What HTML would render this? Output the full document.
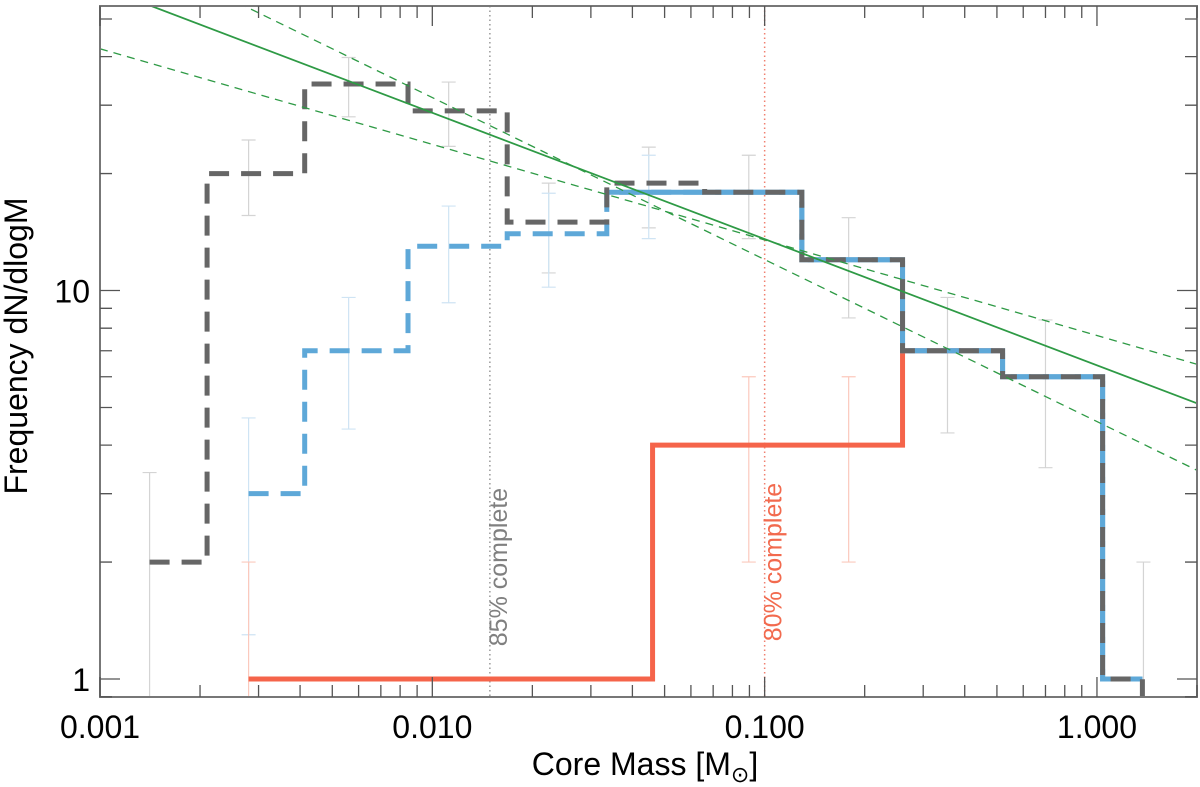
<!DOCTYPE html>
<html><head><meta charset="utf-8"><style>
body{margin:0;background:#fff}
svg{display:block;font-family:"Liberation Sans",sans-serif}
</style></head><body>
<svg id="chart" width="1200" height="787" viewBox="0 0 1200 787" xmlns="http://www.w3.org/2000/svg"></svg>
<script>
// ---- data ----
const grayEdges = [0.00141,0.0021,0.00413,0.00845,0.0168,0.0335,0.066,0.1294,0.26,0.52,1.04,1.37];
const grayValues = [2,20,34,29,15,18.9,17.9,12,7,6,1];
const blueEdges = [0.0028,0.00413,0.00845,0.0168,0.0335,0.066,0.1294,0.26,0.52,1.04,1.37];
const blueValues = [3,7,13,14,17.9,17.9,12,7,6,1];
const redEdges = [0.0028,0.046,0.26,0.52];
const redValues = [1,4,7];
const grayErrX = [0.00141,0.0028,0.0056,0.0112,0.0224,0.0448,0.0896,0.179,0.355,0.70,1.38];
const grayErrHi = [3.4,24.4,39.8,34.4,18.9,23.4,22.3,15.4,9.6,8.4,2.0];
const grayErrLo = [0.5,15.6,28,23.5,11.1,14.5,13.6,8.5,4.3,3.5,0.5];
const blueErrX = [0.0028,0.0056,0.0112,0.0224,0.0448];
const blueErrHi = [4.7,9.6,16.5,17.8,22.3];
const blueErrLo = [1.3,4.4,9.3,10.2,13.6];
const redErrX = [0.0028,0.0896,0.179];
const redErrHi = [2.0,6.0,6.0];
const redErrLo = [0.5,2.0,2.0];
const fitAmp = [6.42,7.66,4.6];
const fitSlope = [-0.325,-0.246,-0.417];
const xTickLabels = ["0.001","0.010","0.100","1.000"];
const xTickValues = [0.001,0.01,0.1,1];
const yTickLabels = ["1","10"];
const yTickValues = [1,10];
const completeness = [0.0149,0.1];
const completeLabels = ["85% complete","80% complete"];

// ---- axes ----
const L=100,R=1197,T=6,B=697;
const xmin=0.001,xmax=2.0,ymin=0.899,ymax=54;
const X=v=>L+(Math.log10(v)-Math.log10(xmin))/(Math.log10(xmax)-Math.log10(xmin))*(R-L);
const Y=v=>B-(Math.log10(v)-Math.log10(ymin))/(Math.log10(ymax)-Math.log10(ymin))*(B-T);
const svg=document.getElementById('chart');
const NS='http://www.w3.org/2000/svg';
function mk(tag,attrs,parent){const e=document.createElementNS(NS,tag);for(const k in attrs)e.setAttribute(k,attrs[k]);(parent||svg).appendChild(e);return e;}

const clip=mk('clipPath',{id:'pc'});mk('rect',{x:L,y:T,width:R-L,height:B-T},clip);
const plot=mk('g',{'clip-path':'url(#pc)'});



function errbars(xs,hi,lo,color,name){
  const g=mk('g',{stroke:color,'stroke-width':1.2,fill:'none'},plot);
  
  
  xs.forEach((x,i)=>{
    const px=X(x),yh=Y(hi[i]),yl=Y(Math.max(lo[i],0.5));
    const p=mk('path',{d:`M${px},${yh}V${yl}M${px-7},${yh}H${px+7}`+(lo[i]>0.9?`M${px-7},${yl}H${px+7}`:'')},g);
    
    
  });
}
errbars(grayErrX,grayErrHi,grayErrLo,'#d4d4d4','gray-error-bars');
errbars(blueErrX,blueErrHi,blueErrLo,'#cfe4f4','blue-error-bars');
errbars(redErrX,redErrHi,redErrLo,'#fbc9bd','red-error-bars');

// completeness lines
const compColors=['#999','#f08070'];
const textColors=['#808080','#f26a4e'];
completeness.forEach((c,i)=>{
  const l=mk('line',{x1:X(c),x2:X(c),y1:T,y2:B,stroke:compColors[i],'stroke-width':1.5,'stroke-dasharray':'1.5 3'},plot);
  
  
  const t=mk('text',{x:0,y:0,transform:`translate(${X(c)+17},${i?562:567}) rotate(-90)`,'text-anchor':'middle','font-size':25,fill:textColors[i]});
  t.textContent=completeLabels[i];
  
  
});

function stepPath(edges,vals){
  let d=`M${X(edges[0])},${Y(vals[0])}`;
  vals.forEach((v,i)=>{d+=`V${Y(v)}H${X(edges[i+1])}`;});
  return d;
}
const red=mk('path',{d:stepPath(redEdges,redValues),fill:'none',stroke:'#f5644a','stroke-width':5},plot);


const blue=mk('path',{d:stepPath(blueEdges,blueValues),fill:'none',stroke:'#5ea8d8','stroke-width':5,'stroke-dasharray':'20 12'},plot);


const blueUnder=mk('path',{d:stepPath(blueEdges.slice(4),blueValues.slice(4)),fill:'none',stroke:'#5ea8d8','stroke-width':5},plot);


const gray=mk('path',{d:stepPath(grayEdges,grayValues)+`V${Y(ymin)}`,fill:'none',stroke:'#666','stroke-width':5,'stroke-dasharray':'20 12'},plot);



// fits
fitAmp.forEach((a,i)=>{
  const f=m=>a*Math.pow(m,fitSlope[i]);
  const l=mk('line',{x1:X(xmin),y1:Y(f(xmin)),x2:X(xmax),y2:Y(f(xmax)),stroke:'#2e9a45','stroke-width':i?1.3:1.8,'stroke-dasharray':i?'8 6':'none'},plot);
  
  
});

// frame & ticks
const frame=mk('rect',{x:L,y:T,width:R-L,height:B-T,fill:'none',stroke:'#777','stroke-width':2});


const tg=mk('g',{stroke:'#555','stroke-width':1.3});


let d='';
for(let e=-3;e<=0;e++)for(let k=1;k<=9;k++){const v=k*Math.pow(10,e);if(v>xmax)break;const px=X(v),len=k===1?20:12;d+=`M${px},${B}v${-len}M${px},${T}v${len}`;}
for(let e=-1;e<=1;e++)for(let k=1;k<=9;k++){const v=k*Math.pow(10,e);if(v<ymin||v>ymax)continue;const py=Y(v),len=k===1?20:12;d+=`M${L},${py}h${len}M${R},${py}h${-len}`;}
mk('path',{d},tg);

xTickValues.forEach((v,i)=>{
  const t=mk('text',{x:X(v),y:B+41,'text-anchor':'middle','font-size':32,fill:'#000'});
  t.textContent=xTickLabels[i];
  
  
});
yTickValues.forEach((v,i)=>{
  const t=mk('text',{x:L-10,y:Y(v)+12,'text-anchor':'end','font-size':32,fill:'#000'});
  t.textContent=yTickLabels[i];
  
  
});
const xt=mk('text',{x:645,y:775,'text-anchor':'middle','font-size':32,fill:'#000'});
xt.innerHTML='Core Mass [M<tspan font-size="22" dy="7">⊙</tspan><tspan dy="-7">]</tspan>';


const yt=mk('text',{x:0,y:0,transform:'translate(27,346) rotate(-90)','text-anchor':'middle','font-size':32,fill:'#000'});
yt.textContent='Frequency dN/dlogM';


</script>
</body></html>
